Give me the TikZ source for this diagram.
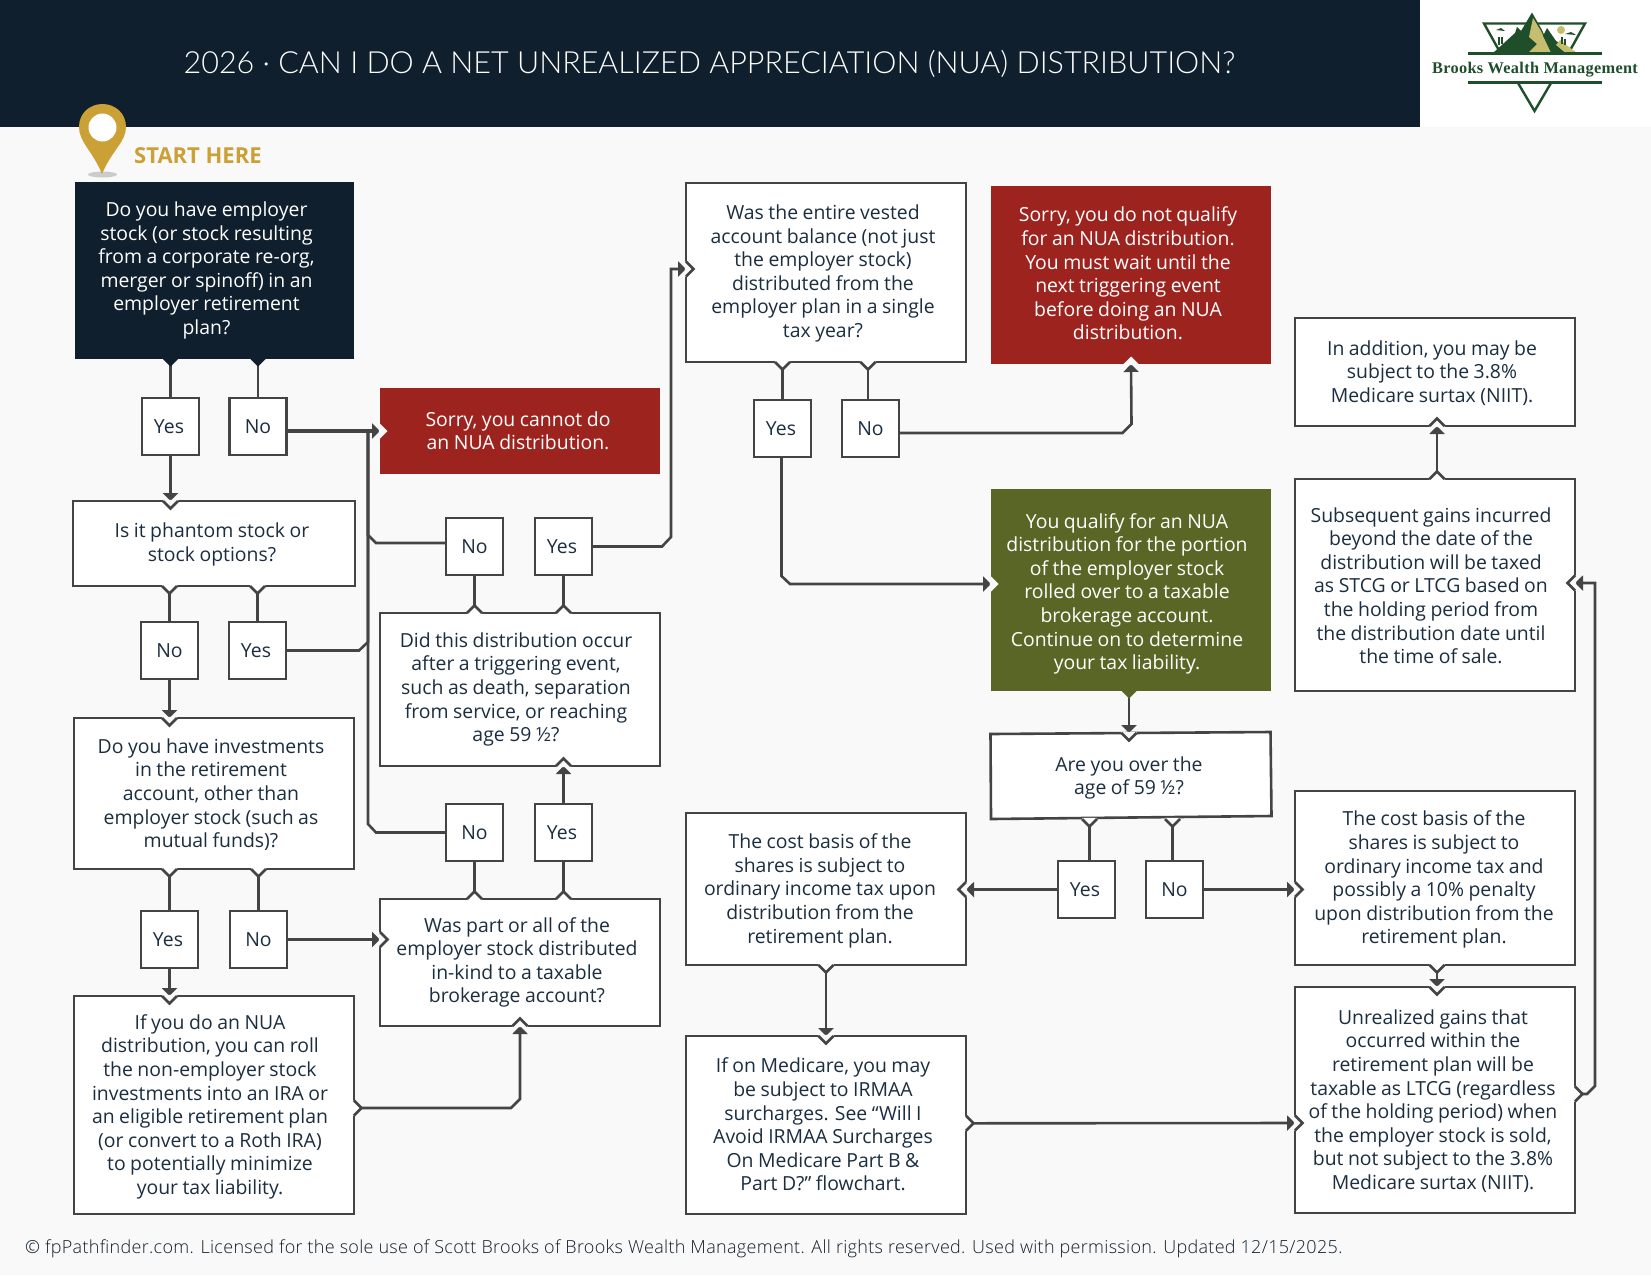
\documentclass[tikz,border=0pt]{standalone}
\usepackage{fontspec}
\setmainfont[WordSpace=0.9]{Open Sans}
\newfontfamily\labelfont{Open Sans}
\newfontfamily\titlefont{Lato Light}
\newfontfamily\footfont[LetterSpace=1.73]{Open Sans Light}
\newfontfamily\logofont[LetterSpace=2]{Liberation Serif}
\usetikzlibrary{arrows.meta,positioning}

\definecolor{navy}{HTML}{0F1F2E}
\definecolor{ink}{HTML}{1B2E40}
\definecolor{lnc}{HTML}{444444}
\definecolor{bgc}{HTML}{F9F9F9}
\definecolor{stopc}{HTML}{9D231F}
\definecolor{okc}{HTML}{5A6625}
\definecolor{goldc}{HTML}{CBA135}
\definecolor{pine}{HTML}{1F4E2A}
\definecolor{khaki}{HTML}{C6BD6E}

% text block, moved by dx and dy inside its box
\newcommand{\ml}[3]{\vbox{\kern\dimexpr#2pt*2+4.4pt\relax\hbox{\kern\dimexpr#1pt*2\relax\begin{tabular}{@{}c@{}}#3\end{tabular}}}}
\newcommand{\yes}{\kern-3pt Yes}
% small chevron on a box edge: position, direction, fill, line
\newcommand{\notch}[4]{%
  \begin{scope}[shift={(#1)},rotate=#2]
    \fill[#3] (-1.2,-7.5) -- (0,-7.5) -- (7.5,0) -- (0,7.5) -- (-1.2,7.5) -- cycle;
    \draw[draw=#4,line width=2.6pt] (0,-7.5) -- (7.5,0) -- (0,7.5);
  \end{scope}}

\begin{document}
\begin{tikzpicture}
  [
   x=1pt,y=-1pt,
   base/.style={anchor=north west,inner sep=0pt,outer sep=0pt,minimum width=280pt,
     font=\fontsize{19.4}{23.6}\selectfont,line width=2.6pt},
   qbox/.style={base,draw=lnc,fill=white,text=ink},
   startbox/.style={base,fill=navy,text=white},
   stopbox/.style={base,fill=stopc,text=white},
   okbox/.style={base,fill=okc,text=white},
   ans/.style={inner sep=0pt,outer sep=0pt,draw=lnc,fill=white,text=ink,line width=2.6pt,
     minimum width=57pt,minimum height=57pt,font=\fontsize{19.4}{23.6}\selectfont},
   cn/.style={draw=lnc,line width=2.6pt},
   ar/.style={cn,-{Triangle[length=8pt,width=15pt]}}
  ]
  \useasboundingbox (0,0) rectangle (1651,1275);
  \fill[bgc] (0,0) rectangle (1651,1275);
  \fill[navy] (0,0) rectangle (1420,127);
  \fill[white] (1420,0) rectangle (1651,127);

  % logo
  \fill[white] (1482,22) -- (1587,22) -- (1534,113) -- cycle;
  \draw[pine,line width=2.4pt,line join=miter] (1501,54) -- (1484,23.5) -- (1585,23.5) -- (1568,54);
  \draw[pine,line width=2.4pt] (1518,83) -- (1534.5,111) -- (1551,83);
  \fill[pine] (1532,12.5) -- (1542,30) -- (1552,53) -- (1493,53) -- (1515,33) -- (1517,27) -- (1521,31) -- cycle;
  \fill[khaki] (1533,18) -- (1541,31) -- (1551,53) -- (1528,53) -- (1537,44) -- (1529,37) -- cycle;
  \fill[pine] (1547,28) -- (1556,41) -- (1577,53) -- (1552,53) -- (1543,36) -- cycle;
  \fill[khaki] (1556,45) -- (1560,40) -- (1576,52.5) -- (1565,52.5) -- cycle;
  \fill[khaki] (1561,30) circle (4);
  \fill[pine] (1496,30) -- (1501,28) -- (1505,31) -- cycle (1565,34) -- (1571,32) -- (1576,35) -- cycle;
  \draw[pine,line width=1.4pt] (1499,37) -- (1499,45) (1502,37) -- (1502,44) (1562,37) -- (1562,44) (1565,39) -- (1565,45);
  \draw[pine,line width=2.8pt] (1468,53.5) -- (1602,53.5) (1468,82.7) -- (1602,82.7);

  \node[text=pine,font=\logofont\bfseries\fontsize{16.3}{17}\selectfont,inner sep=0pt] (logotxt) at (1535,69.5) {Brooks Wealth Management};

  \node[text=white,font=\titlefont\fontsize{30.5}{31}\selectfont,inner sep=0pt] (title) at (709.5,64)
    {2026 · CAN I DO A NET UNREALIZED APPRECIATION (NUA) DISTRIBUTION?};

  % start pin
  \fill[black!20] (102.5,174.5) ellipse (14.5 and 3);
  \fill[goldc] (102,174) .. controls (92,150) and (79,142) .. (79,127)
     .. controls (79,113) and (90,104) .. (102.5,104)
     .. controls (115,104) and (126,113) .. (126,127)
     .. controls (126,142) and (112,150) .. (102,174) -- cycle;
  \fill[white] (102.5,127.5) circle (14);
  \node[text=goldc,font=\labelfont\bfseries\fontsize{22}{23}\selectfont,inner sep=0pt,anchor=west] (startlb) at (134,156) {START HERE};

  % left column
  \node[startbox,minimum width=279pt,minimum height=177pt] (q1) at (75,182)
    {\ml{-8}{-2}{Do you have employer\\stock (or stock resulting\\from a corporate re-org,\\merger or spinoff) in an\\employer retirement\\plan?}};
  \node[ans] (q1y) [below right=39pt and 67pt of q1.south west] {\yes};
  \node[ans] (q1n) [below right=39pt and 154.5pt of q1.south west] {No};

  \node[qbox,minimum width=282pt,minimum height=85pt] (q2) at (73,501)
    {\ml{-2}{-1}{Is it phantom stock or\\stock options?}};
  \node[ans] (q2n) [below right=36pt and 68pt of q2.south west] {No};
  \node[ans] (q2y) [below right=36pt and 156pt of q2.south west] {\yes};

  \node[qbox,minimum height=151pt] (q3) at (74,718)
    {\ml{-3}{0}{Do you have investments\\in the retirement\\account, other than\\employer stock (such as\\mutual funds)?}};
  \node[ans] (q3y) [below right=42pt and 67pt of q3.south west] {\yes};
  \node[ans] (q3n) [below right=42pt and 156pt of q3.south west] {No};

  \node[qbox,minimum height=218pt] (q4) at (74,996)
    {\ml{-4}{0}{If you do an NUA\\distribution, you can roll\\the non-employer stock\\investments into an IRA or\\an eligible retirement plan\\(or convert to a Roth IRA)\\to potentially minimize\\your tax liability.}};

  % second column
  \node[stopbox,minimum height=86pt] (nope1) at (380,388)
    {\ml{-2}{0}{Sorry, you cannot do\\an NUA distribution.}};
  \node[qbox,minimum height=153pt] (did) at (380,613)
    {\ml{-4}{-2}{Did this distribution occur\\after a triggering event,\\such as death, separation\\from service, or reaching\\age 59 ½?}};
  \node[ans] (didn) [above right=38pt and 66pt of did.north west] {No};
  \node[ans] (didy) [above right=38pt and 155pt of did.north west] {\yes};
  \node[qbox,minimum height=127pt] (part) at (380,899)
    {\ml{-3}{-2}{Was part or all of the\\employer stock distributed\\in-kind to a taxable\\brokerage account?}};
  \node[ans] (partn) [above right=38pt and 66pt of part.north west] {No};
  \node[ans] (party) [above right=38pt and 155pt of part.north west] {\yes};

  % third column
  \node[qbox,minimum height=179pt] (was) at (686,183)
    {\ml{-3}{-1}{Was the entire vested\\account balance (not just\\the employer stock)\\distributed from the\\employer plan in a single\\tax year?}};
  \node[ans] (wasy) [below right=38pt and 68pt of was.south west] {\yes};
  \node[ans] (wasn) [below right=38pt and 156pt of was.south west] {No};
  \node[qbox,minimum height=152pt] (basl) at (686,813)
    {\ml{-6}{0}{The cost basis of the\\shares is subject to\\ordinary income tax upon\\distribution from the\\retirement plan.}};
  \node[qbox,minimum height=178pt] (med) at (686,1036)
    {\ml{-3}{0}{If on Medicare, you may\\be subject to IRMAA\\surcharges. See “Will I\\Avoid IRMAA Surcharges\\On Medicare Part B \&\\Part D?” flowchart.}};

  % fourth column
  \node[stopbox,minimum height=178pt] (nope2) at (991,186)
    {\ml{-3}{-1}{Sorry, you do not qualify\\for an NUA distribution.\\You must wait until the\\next triggering event\\before doing an NUA\\distribution.}};
  \node[okbox,minimum height=202pt] (qual) at (991,489)
    {\ml{-4}{2}{You qualify for an NUA\\distribution for the portion\\of the employer stock\\rolled over to a taxable\\brokerage account.\\Continue on to determine\\your tax liability.}};
  \fill[white,draw=lnc,line width=2.6pt] (990.5,734) -- (1270.5,732) -- (1271.5,816) -- (991,819) -- cycle;
  \node[base,text=ink,minimum height=86pt] (over) at (991,733)
    {\ml{-2}{0}{Are you over the\\age of 59 ½?}};
  \node[ans] (overy) [below right=42pt and 67pt of over.south west] {\yes};
  \node[ans] (overn) [below right=42pt and 155pt of over.south west] {No};

  % last column
  \node[qbox,minimum height=108pt] (niit) at (1295,318)
    {\ml{-3}{0}{In addition, you may be\\subject to the 3.8\%\\Medicare surtax (NIIT).}};
  \node[qbox,minimum height=212pt] (subs) at (1295,479)
    {\ml{-4}{1}{Subsequent gains incurred\\beyond the date of the\\distribution will be taxed\\as STCG or LTCG based on\\the holding period from\\the distribution date until\\the time of sale.}};
  \node[qbox,minimum height=174pt] (basr) at (1295,791)
    {\ml{-1}{0}{The cost basis of the\\shares is subject to\\ordinary income tax and\\possibly a 10\% penalty\\upon distribution from the\\retirement plan.}};
  \node[qbox,minimum height=226pt] (unre) at (1295,987)
    {\ml{-2}{0}{Unrealized gains that\\occurred within the\\retirement plan will be\\taxable as LTCG (regardless\\of the holding period) when\\the employer stock is sold,\\but not subject to the 3.8\%\\Medicare surtax (NIIT).}};

  \node[text=navy,font=\footfont\fontsize{18}{20}\selectfont,inner sep=0pt,anchor=west] (foot) at (25,1249)
    {© fpPathfinder.com. Licensed for the sole use of Scott Brooks of Brooks Wealth Management. All rights reserved. Used with permission. Updated 12/15/2025.};

  % connectors
  \draw[cn] (q1.south -| q1y) -- (q1y.north);
  \draw[cn] (q1.south -| q1n) -- (q1n.north);
  \draw[ar] (q1y.south) -- (q2.north -| q1y);
  \draw[ar,line width=3.4pt] (nope1.west -| q1n.east) -- (nope1.west);
  \draw[cn] (q2.south -| q2n) -- (q2n.north);
  \draw[cn] (q2.south -| q2y) -- (q2y.north);
  \draw[ar] (q2n.south) -- (q3.north -| q2n);
  \draw[cn] (q3.south -| q3y) -- (q3y.north);
  \draw[cn] (q3.south -| q3n) -- (q3n.north);
  \draw[ar] (q3y.south) -- (q4.north -| q3y);
  \draw[ar] (q3n.east) -- (part.west |- q3n.east);
  \draw[ar] ([yshift=-3pt]q4.east) -- (511,1108) -- (520,1099) -- (part.south);
  \draw[cn] (q2y.east) -- (359,650.5) -- (368,642) -- (368,431);
  \draw[cn] ([yshift=3.5pt]didn.west) -- (376,543) -- (368,535) -- (368,431);
  \draw[cn] (partn.west) -- (376,832.5) -- (368,824) -- (368,431);
  \draw[cn] (did.north -| didn) -- (didn.south);
  \draw[cn] (did.north -| didy) -- (didy.south);
  \draw[cn] (part.north -| partn) -- (partn.south);
  \draw[cn] (part.north -| party) -- (party.south);
  \draw[ar] (party.north) -- (did.south -| party);
  \draw[ar] (didy.east) -- (662,546.5) -- (671,537) -- (671,269) -- ([yshift=3.5pt]was.west);
  \draw[cn] (was.south -| wasy) -- (wasy.north);
  \draw[cn] ([xshift=-2.5pt]wasn.north) -- ([xshift=-2.5pt]wasn.north |- was.south);
  \draw[ar] ([yshift=-4.5pt]wasn.east) -- (1122.5,433) -- (1131.5,424) -- (nope2.south);
  \draw[ar] ([xshift=-1pt]wasy.south) -- (781.5,576) -- (790,584) -- ([yshift=6pt]qual.west);
  \draw[ar] ([xshift=-2pt]qual.south) -- ([xshift=-2pt]over.north);
  \draw[cn] ([xshift=3pt]overy.north) -- ([xshift=3pt]overy.north |- over.south);
  \draw[cn] ([xshift=-2pt]overn.north) -- ([xshift=-2pt]overn.north |- over.south);
  \draw[ar] (overy.west) -- (basl.east |- overy.west);
  \draw[ar] (overn.east) -- (basr.west |- overn.east);
  \draw[ar] (basl.south) -- (med.north);
  \draw[ar] ([yshift=1.7pt]med.east) -- ([yshift=-23pt]unre.west);
  \draw[ar] ([xshift=2pt]basr.south) -- ([xshift=2pt]unre.north);
  \draw[ar] ([xshift=2pt]subs.north) -- ([xshift=2pt]niit.south);
  \draw[ar] ([yshift=6pt]unre.east) -- (1587,1094) -- (1595,1086) -- (1595,583) -- ([yshift=2pt]subs.east);

  % chevrons on the box edges
  \notch{q1.south -| q1y}{-90}{navy}{none}
  \notch{q1.south -| q1n}{-90}{navy}{none}
  \notch{q2.north -| q1y}{-90}{bgc}{lnc}
  \notch{nope1.west}{0}{bgc}{none}
  \notch{q2.south -| q2n}{-90}{white}{lnc}
  \notch{q2.south -| q2y}{-90}{white}{lnc}
  \notch{q3.north -| q2n}{-90}{bgc}{lnc}
  \notch{q3.south -| q3y}{-90}{white}{lnc}
  \notch{q3.south -| q3n}{-90}{white}{lnc}
  \notch{q4.north -| q3y}{-90}{bgc}{lnc}
  \notch{part.west |- q3n.east}{0}{bgc}{lnc}
  \notch{[yshift=-3pt]q4.east}{0}{white}{lnc}
  \notch{part.south}{90}{bgc}{lnc}
  \notch{did.north -| didn}{90}{white}{lnc}
  \notch{did.north -| didy}{90}{white}{lnc}
  \notch{part.north -| partn}{90}{white}{lnc}
  \notch{part.north -| party}{90}{white}{lnc}
  \notch{did.south -| party}{90}{bgc}{lnc}
  \notch{[yshift=3.5pt]was.west}{0}{bgc}{lnc}
  \notch{was.south -| wasy}{-90}{white}{lnc}
  \notch{[xshift=-2.5pt]wasn.north |- was.south}{-90}{white}{lnc}
  \notch{nope2.south}{90}{bgc}{none}
  \notch{[yshift=6pt]qual.west}{0}{bgc}{none}
  \notch{[xshift=-2pt]qual.south}{-90}{okc}{none}
  \notch{[xshift=-2pt]over.north}{-90}{bgc}{lnc}
  \notch{[xshift=3pt]overy.north |- over.south}{-90}{white}{lnc}
  \notch{[xshift=-2pt]overn.north |- over.south}{-90}{white}{lnc}
  \notch{basl.east |- overy.west}{180}{bgc}{lnc}
  \notch{basr.west |- overn.east}{0}{bgc}{lnc}
  \notch{basl.south}{-90}{white}{lnc}
  \notch{med.north}{-90}{bgc}{lnc}
  \notch{[yshift=1.7pt]med.east}{0}{white}{lnc}
  \notch{[yshift=-23pt]unre.west}{0}{bgc}{lnc}
  \notch{[xshift=2pt]basr.south}{-90}{white}{lnc}
  \notch{[xshift=2pt]unre.north}{-90}{bgc}{lnc}
  \notch{[xshift=2pt]subs.north}{90}{white}{lnc}
  \notch{[xshift=2pt]niit.south}{90}{bgc}{lnc}
  \notch{[yshift=6pt]unre.east}{0}{white}{lnc}
  \notch{[yshift=2pt]subs.east}{180}{bgc}{lnc}
\end{tikzpicture}
\end{document}
